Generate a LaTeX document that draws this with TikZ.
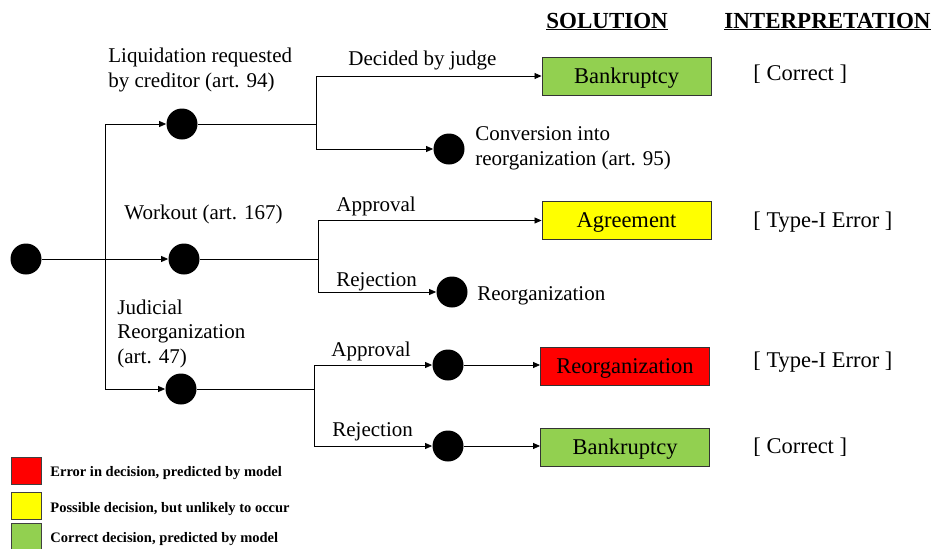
\documentclass[tikz,border=0pt]{standalone}
\usepackage{fontspec}
\setmainfont{Liberation Serif}
\usetikzlibrary{positioning}
\usetikzlibrary{arrows.meta}
\tikzset{>={Triangle[length=7pt,width=6pt]}}
\definecolor{okgreen}{HTML}{92D050}
\definecolor{errred}{HTML}{FF0000}
\definecolor{maybeyellow}{HTML}{FFFF00}
\tikzset{
  dot/.style={circle,fill=black,inner sep=0pt,minimum size=31pt},
  outcome/.style={draw=black!80,line width=0.9pt,minimum width=169pt,minimum height=38pt,inner sep=0pt,text height=14pt,text depth=0pt,font=\fontsize{22.5}{26}\selectfont},
  lbl/.style={inner sep=0pt,align=left,anchor=base west,font=\fontsize{21}{24.5}\selectfont},
  verdict/.style={inner sep=0pt,anchor=base west,font=\fontsize{22.5}{26}\selectfont},
  header/.style={inner sep=0pt,anchor=base west,font=\fontsize{23}{26}\selectfont\bfseries},
  swatch/.style={draw=black!75,line width=0.9pt,minimum width=30pt,minimum height=27pt,inner sep=0pt,anchor=north west},
  legtext/.style={inner sep=0pt,anchor=base west,font=\fontsize{14.5}{17}\selectfont\bfseries}
}

\begin{document}
\begin{tikzpicture}[x=1pt,y=-1pt,line width=0.8pt]
    \useasboundingbox (0,0) rectangle (935,549);
    % headers
    \node[header] (hsol) at (546,28) {\underline{SOLUTION}};
    \node[header] (hint) at (724,28) {\underline{INTERPRETATION}};
    % decision nodes
    \node[dot] (root) at (26,259) {};
    \node[dot] (liq) at (182,124) {};
    \node[dot] (wrk) at (184,259) {};
    \node[dot] (jud) at (181,389) {};
    \node[dot] (conv) at (449,149) {};
    \node[dot] (wrej) at (452,292) {};
    \node[dot] (japp) at (448,365) {};
    \node[dot] (jrej) at (448,446) {};
    % outcomes
    \node[outcome, fill=okgreen] (bank1) at (626.5,76) {Bankruptcy};
    \node[outcome, fill=maybeyellow] (agree) at (626.5,220.5) {Agreement};
    \node[outcome, fill=errred] (reorg) at (625,366.5) {Reorganization};
    \node[outcome, fill=okgreen] (bank2) at (625,447.5) {Bankruptcy};
    % branch points
    \coordinate (trunk) at (105,259);
    \coordinate (forkL) at (316,124);
    \coordinate (forkW) at (318,259);
    \coordinate (forkJ) at (314,389);
    % connectors
    \draw[->] (root) -- (wrk);
    \draw[->] (trunk) |- (liq);
    \draw[->] (trunk) |- (jud);
    \draw (liq) -- (forkL);
    \draw[->] (forkL) |- (bank1);
    \draw[->] (forkL) |- (conv);
    \draw (wrk) -- (forkW);
    \draw[->] (forkW) |- (agree);
    \draw[->] (forkW) |- (wrej);
    \draw (jud) -- (forkJ);
    \draw[->] (forkJ) |- (japp);
    \draw[->] (forkJ) |- (jrej);
    \draw[->] (japp) -- (japp -| reorg.west);
    \draw[->] (jrej) -- (jrej -| bank2.west);
    % labels
    \node[lbl] (lliq) at (108,87) {Liquidation requested\\by creditor (art. 94)};
    \node[lbl] (lwrk) at (124,219) {Workout (art. 167)};
    \node[lbl] (ljud) at (117,363) {Judicial\\Reorganization\\(art. 47)};
    \node[lbl] (ljudge) at (348,65) {Decided by judge};
    \node[lbl] (lconv) at (475,165) {Conversion into\\reorganization (art. 95)};
    \node[lbl] (lwapp) at (336,211) {Approval};
    \node[lbl] (lwrej) at (336,286) {Rejection};
    \node[lbl] (lreorg) at (477,300) {Reorganization};
    \node[lbl] (ljapp) at (331,356) {Approval};
    \node[lbl] (ljrej) at (332,436) {Rejection};
    % interpretation
    \node[verdict] (v1) at (753,80) {[ Correct ]};
    \node[verdict] (v2) at (753,227) {[ Type-I Error ]};
    \node[verdict] (v3) at (753,367) {[ Type-I Error ]};
    \node[verdict] (v4) at (753,453) {[ Correct ]};
    % legend
    \node[swatch, fill=errred] (kred) at (11,457) {};
    \node[swatch, fill=maybeyellow] (kyel) at (11,492) {};
    \node[swatch, fill=okgreen] (kgrn) at (11,523) {};
    \node[legtext] (tred) at (50,476) {Error in decision, predicted by model};
    \node[legtext] (tyel) at (50,512) {Possible decision, but unlikely to occur};
    \node[legtext] (tgrn) at (50,542) {Correct decision, predicted by model};
\end{tikzpicture}
\end{document}
